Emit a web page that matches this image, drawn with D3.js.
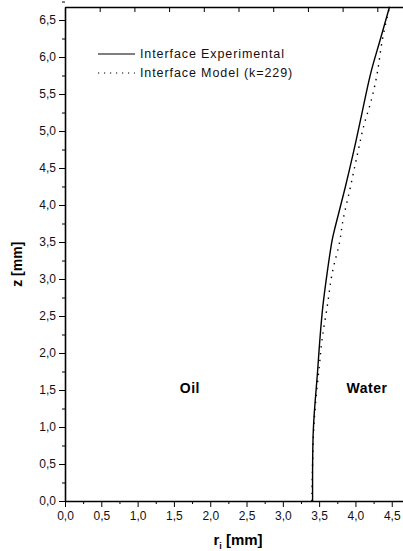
<!DOCTYPE html>
<html>
<head>
<meta charset="utf-8">
<script src="https://cdn.jsdelivr.net/npm/d3@7"></script>
<style>
  body { margin: 0; background: #fff; }
  svg { display: block; font-family: "Liberation Sans", Arial, sans-serif; }
</style>
</head>
<body>
<svg width="403" height="551"></svg>
<script>
// interface position, experimental (solid) and model (dotted)
var expZ = [0, 0.96, 1.77, 2.18, 2.62, 3.08, 3.53, 3.70, 4.24, 4.70, 5.15, 5.78, 6.23, 6.68];
var expR = [3.41, 3.42, 3.48, 3.51, 3.55, 3.61, 3.68, 3.72, 3.86, 3.97, 4.07, 4.21, 4.34, 4.47];
var modZ = [0, 0.86, 1.32, 1.80, 2.18, 2.62, 3.08, 3.49, 3.80, 4.24, 4.70, 5.09, 5.42, 5.78, 6.23, 6.68];
var modR = [3.40, 3.42, 3.45, 3.50, 3.54, 3.61, 3.68, 3.78, 3.83, 3.93, 4.03, 4.12, 4.22, 4.30, 4.37, 4.47];
var xTicks = [0, 0.5, 1, 1.5, 2, 2.5, 3, 3.5, 4, 4.5];
var yTicks = [0, 0.5, 1, 1.5, 2, 2.5, 3, 3.5, 4, 4.5, 5, 5.5, 6, 6.5];
var legendLabels = ["Interface Experimental", "Interface Model (k=229)"];
var regionLabels = [{ text: "Oil", r: 1.72, z: 1.53 }, { text: "Water", r: 4.16, z: 1.53 }];

var svg = d3.select("svg");
var margin = { top: 7, right: 0, bottom: 50, left: 65 },
    width = 403 - margin.left - margin.right,
    height = 551 - margin.top - margin.bottom;

var x = d3.scaleLinear().domain([0, 4.655]).range([0, width]);
var y = d3.scaleLinear().domain([0, 6.676]).range([height, 0]);
// top frame ticks are spaced a bit tighter in the original
var xTop = d3.scaleLinear().domain([0, 4.87]).range([0, width]);

var fmt = function (d) { return d3.format(".1f")(d).replace(".", ","); };

var g = svg.append("g").attr("transform", "translate(" + margin.left + "," + margin.top + ")");

function minor(ticks, step) {
    var out = [];
    ticks.forEach(function (d) { out.push(d + step); });
    return out;
}

// x axis
g.append("g")
    .attr("transform", "translate(0," + height + ")")
    .call(d3.axisBottom(x).tickValues(minor(xTicks, 0.25)).tickSize(3).tickFormat(""))
    .call(function (a) { a.select(".domain").remove(); });
var xa = g.append("g")
    .attr("transform", "translate(0," + height + ")")
    .call(d3.axisBottom(x).tickValues(xTicks).tickSize(6).tickSizeOuter(0).tickPadding(4).tickFormat(fmt));
xa.select(".domain").attr("stroke-width", 1.6);
xa.selectAll("text").attr("font-size", 12).attr("fill", "#111");

// y axis
g.append("g")
    .call(d3.axisLeft(y).tickValues(minor(yTicks, 0.25)).tickSize(3).tickFormat(""))
    .call(function (a) { a.select(".domain").remove(); });
var ya = g.append("g")
    .call(d3.axisLeft(y).tickValues(yTicks).tickSize(6).tickSizeOuter(0).tickPadding(3).tickFormat(fmt));
ya.select(".domain").attr("stroke-width", 1.6);
ya.selectAll("text").attr("font-size", 12).attr("fill", "#111");

// top frame
var ta = g.append("g")
    .call(d3.axisTop(xTop).tickValues(xTicks).tickSize(-5).tickSizeOuter(0).tickFormat(""));
ta.select(".domain").attr("stroke-width", 1.6);

// curves
var lineExp = d3.line()
    .x(function (d, i) { return x(expR[i]); })
    .y(function (d) { return y(d); })
    .curve(d3.curveCatmullRom);
var lineMod = d3.line()
    .x(function (d, i) { return x(modR[i]); })
    .y(function (d) { return y(d); })
    .curve(d3.curveCatmullRom);

g.append("path").attr("d", lineMod(modZ))
    .attr("fill", "none").attr("stroke", "#000").attr("stroke-width", 1.4)
    .attr("stroke-dasharray", "1.4,5.6");
g.append("path").attr("d", lineExp(expZ))
    .attr("fill", "none").attr("stroke", "#000").attr("stroke-width", 1.4);

// legend
var leg = svg.append("g");
legendLabels.forEach(function (t, i) {
    var ly = 54 + i * 19;
    leg.append("line").attr("x1", 98).attr("x2", 135).attr("y1", ly).attr("y2", ly)
        .attr("stroke", "#000").attr("stroke-width", 1.2)
        .attr("stroke-dasharray", i === 1 ? "1.2,4.8" : null);
    leg.append("text").attr("x", 140).attr("y", ly).attr("dy", "0.35em")
        .attr("font-size", 12.5).attr("letter-spacing", 0.9).attr("fill", "#111").text(t);
});

// region labels
regionLabels.forEach(function (d) {
    g.append("text").attr("x", x(d.r)).attr("y", y(d.z)).attr("dy", "0.35em")
        .attr("text-anchor", "middle").attr("font-size", 14).attr("font-weight", "bold")
        .attr("letter-spacing", 0.5).text(d.text);
});

// axis titles
var xt = svg.append("text").attr("x", 238).attr("y", 545)
    .attr("text-anchor", "middle").attr("font-size", 15).attr("font-weight", "bold");
xt.append("tspan").text("r");
xt.append("tspan").attr("font-size", 9).attr("dy", 4).text("i");
xt.append("tspan").attr("dy", -4).text(" [mm]");

svg.append("text")
    .attr("transform", "translate(22," + (margin.top + y(3.2)) + ") rotate(-90)")
    .attr("text-anchor", "middle").attr("font-size", 14).attr("font-weight", "bold")
    .text("z [mm]");
</script>
</body>
</html>
